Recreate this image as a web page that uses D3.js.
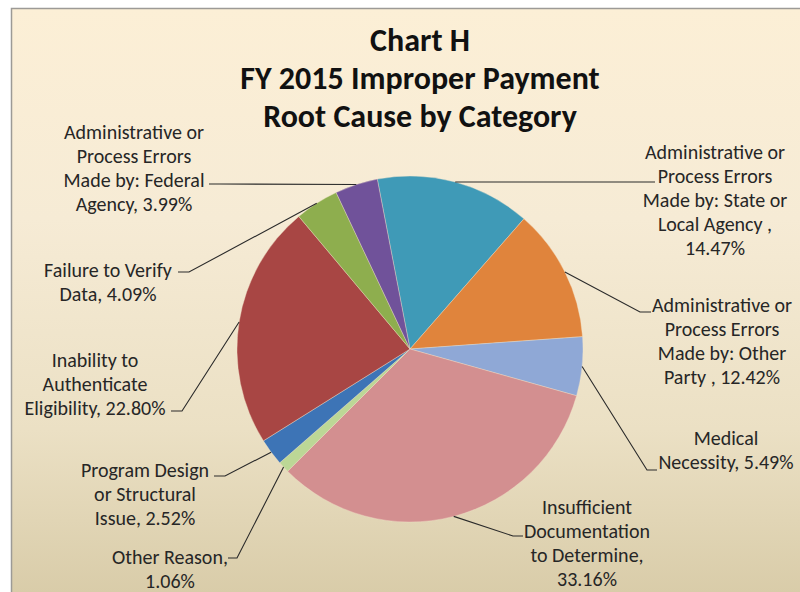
<!DOCTYPE html>
<html>
<head>
<meta charset="utf-8">
<script src="https://cdn.jsdelivr.net/npm/d3@7"></script>
<style>
    body { margin: 0; background: #ffffff; }
    .title { font-family: Carlito, Lato, sans-serif; font-weight: bold; fill: #111; }
    .label { font-family: Carlito, Lato, sans-serif; fill: #262626; }
</style>
</head>
<body>
<div class="chart"></div>
<script>

// slice order as drawn clockwise, starting with the State/Local slice
let categories = [
    ["Administrative or", "Process Errors", "Made by: State or", "Local Agency ,"],
    ["Administrative or", "Process Errors", "Made by: Other", "Party ,"],
    ["Medical", "Necessity,"],
    ["Insufficient", "Documentation", "to Determine,"],
    ["Other Reason,"],
    ["Program Design", "or Structural", "Issue,"],
    ["Inability to", "Authenticate", "Eligibility,"],
    ["Failure to Verify", "Data,"],
    ["Administrative or", "Process Errors", "Made by: Federal", "Agency,"]
];
let values = [14.47, 12.42, 5.49, 33.16, 1.06, 2.52, 22.80, 4.09, 3.99];
let titleLines = ["Chart H", "FY 2015 Improper Payment", "Root Cause by Category"];

let colors = ["#3f9ab7", "#e0843c", "#8fa8d6", "#d38f90", "#bcd796", "#3d74b6", "#a84644", "#8eae4e", "#70529a"];

// label layout: centre x, first line centre y, leader elbow + end
let labelLayout = [
    { x: 715, y: 152, lines: 5, elbow: [645, 182], end: [655, 182] },
    { x: 722, y: 305, lines: 4, elbow: [640, 312], end: [651, 312] },
    { x: 726, y: 438, lines: 2, elbow: [647, 470], end: [657, 470] },
    { x: 587, y: 507, lines: 4, elbow: [513, 536], end: [523, 536] },
    { x: 170, y: 557, lines: 2, elbow: [237, 558], end: [228, 558] },
    { x: 145, y: 470, lines: 3, elbow: [225, 476], end: [214, 476] },
    { x: 95, y: 360, lines: 3, elbow: [182, 411], end: [171, 411] },
    { x: 108, y: 270, lines: 2, elbow: [189, 272], end: [178, 272] },
    { x: 134, y: 132, lines: 4, elbow: [220, 184], end: [209, 184] }
];

let svgWidth = 800;
let svgHeight = 592;
let cx = 410;
let cy = 349;
let radius = 173;
let lineStep = 24;

let svg = d3
    .select(".chart")
    .append("svg")
    .attr("width", svgWidth)
    .attr("height", svgHeight);

let defs = svg.append("defs");
let grad = defs.append("linearGradient")
    .attr("id", "bg")
    .attr("x1", 0).attr("y1", 0)
    .attr("x2", 0).attr("y2", 1);
grad.append("stop").attr("offset", "0%").attr("stop-color", "#fcefd6");
grad.append("stop").attr("offset", "35%").attr("stop-color", "#f6ebd5");
grad.append("stop").attr("offset", "70%").attr("stop-color", "#ebe0c4");
grad.append("stop").attr("offset", "100%").attr("stop-color", "#d7caa6");

// chart area frame
svg.append("rect")
    .attr("x", 11.5)
    .attr("y", 8.5)
    .attr("width", svgWidth + 10)
    .attr("height", svgHeight + 10)
    .attr("fill", "url(#bg)")
    .attr("stroke", "#9c9a96")
    .attr("stroke-width", 1.5);

// title
svg.append("g")
    .selectAll("text")
    .data(titleLines)
    .enter()
    .append("text")
    .attr("class", "title")
    .attr("x", 420)
    .attr("y", (d, i) => 40 + i * 38)
    .attr("dy", "0.35em")
    .attr("text-anchor", "middle")
    .style("font-size", "32px")
    .text(d => d);

let data = values.map((v, i) => ({ value: v, lines: categories[i], color: colors[i], layout: labelLayout[i] }));

let pie = d3.pie()
    .sort(null)
    .value(d => d.value)
    .startAngle(-10.9 * Math.PI / 180)
    .endAngle((360 - 10.9) * Math.PI / 180);

let arc = d3.arc()
    .innerRadius(0)
    .outerRadius(radius);

let pieGroup = svg.append("g")
    .attr("transform", `translate(${cx}, ${cy})`);

let arcs = pie(data);

pieGroup.selectAll("path")
    .data(arcs)
    .enter()
    .append("path")
    .attr("d", arc)
    .attr("fill", d => d.data.color)
    .attr("stroke", "#f3e6cc")
    .attr("stroke-opacity", 0.6)
    .attr("stroke-width", 0.6);

// leader lines from the slice edge at its mid angle
let edgePoint = function (d) {
    let a = (d.startAngle + d.endAngle) / 2;
    return [cx + radius * Math.sin(a), cy - radius * Math.cos(a)];
};

svg.append("g")
    .selectAll("path")
    .data(arcs)
    .enter()
    .append("path")
    .attr("d", d => d3.line()([edgePoint(d), d.data.layout.elbow, d.data.layout.end]))
    .attr("fill", "none")
    .attr("stroke", "#2a2a2a")
    .attr("stroke-width", 1.1);

// labels
let labelGroup = svg.append("g");
arcs.forEach(function (d) {
    let lay = d.data.layout;
    let lines = d.data.lines.slice();
    let pct = d.data.value.toFixed(2) + "%";
    if (lines.length < lay.lines) {
        lines.push(pct);
    } else {
        lines[lines.length - 1] = lines[lines.length - 1] + " " + pct;
    }
    let t = labelGroup.append("text")
        .attr("class", "label")
        .attr("text-anchor", "middle")
        .style("font-size", "20px");
    lines.forEach(function (line, i) {
        t.append("tspan")
            .attr("x", lay.x)
            .attr("y", lay.y + i * lineStep)
            .attr("dy", "0.35em")
            .text(line);
    });
});

</script>
</body>
</html>
